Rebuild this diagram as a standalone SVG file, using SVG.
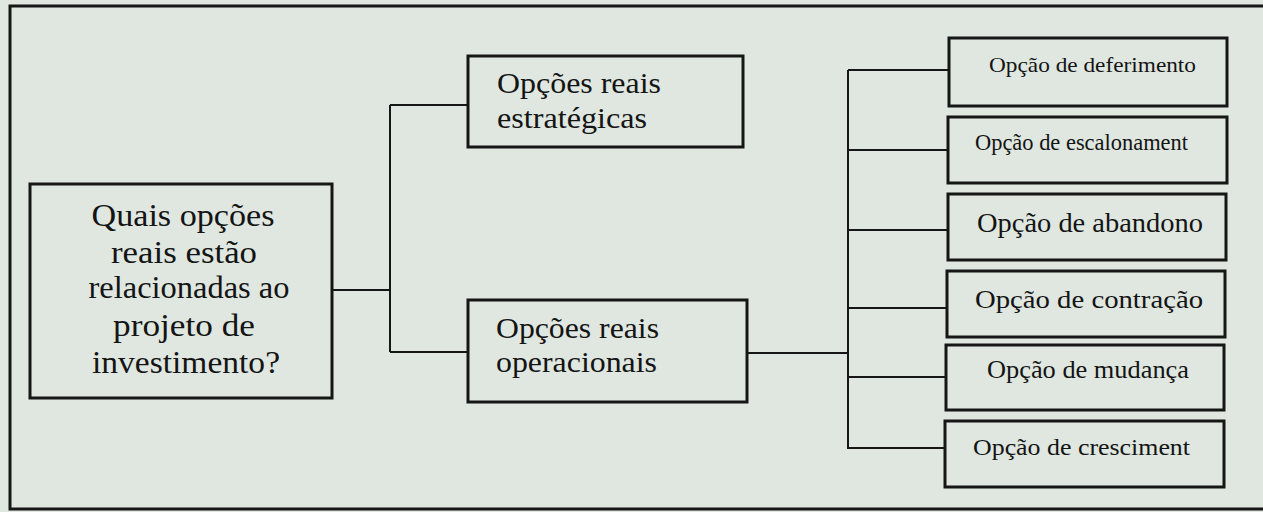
<svg xmlns="http://www.w3.org/2000/svg" width="1263" height="512" viewBox="0 0 1263 512">
  <style>
    .box { fill: none; stroke: #161616; stroke-width: 3; }
    .wire { fill: none; stroke: #161616; stroke-width: 2; }
    text { font-family: "Liberation Serif", "Times New Roman", serif; fill: #141414; }
    .big { font-size: 32px; }
    .mid { font-size: 29px; }
    .c { text-anchor: middle; }
  </style>

  <!-- page background and outer frame -->
  <rect x="0" y="0" width="1263" height="512" fill="#dfe7e0"/>
  <rect x="10" y="6" width="1270" height="503" class="box"/>

  <!-- connectors -->
  <g id="connectors">
    <path class="wire" d="M332 290 H390 M390 105 V352 M390 105 H468 M390 352 H468"/>
    <path class="wire" d="M747 353 H848 M848 70 V449"/>
    <path class="wire" d="M848 70 H949 M848 150 H948 M848 230 H948 M848 308 H947 M848 377 H946 M848 448 H945"/>
  </g>

  <g id="question">
    <rect class="box" x="30" y="184" width="302" height="214"/>
    <text class="big c" x="183" y="226" textLength="183" lengthAdjust="spacingAndGlyphs">Quais opções</text>
    <text class="big c" x="184" y="263" textLength="146" lengthAdjust="spacingAndGlyphs">reais estão</text>
    <text class="big c" x="189" y="298" textLength="201" lengthAdjust="spacingAndGlyphs">relacionadas ao</text>
    <text class="big c" x="184" y="336" textLength="142" lengthAdjust="spacingAndGlyphs">projeto de</text>
    <text class="big c" x="186" y="373" textLength="188" lengthAdjust="spacingAndGlyphs">investimento?</text>
  </g>

  <g id="estrategicas">
    <rect class="box" x="468" y="56" width="275" height="91"/>
    <text class="mid" x="497" y="93" textLength="164" lengthAdjust="spacingAndGlyphs">Opções reais</text>
    <text class="mid" x="497" y="128" textLength="150" lengthAdjust="spacingAndGlyphs">estratégicas</text>
  </g>

  <g id="operacionais">
    <rect class="box" x="468" y="300" width="279" height="102"/>
    <text class="mid" x="496" y="338" textLength="163" lengthAdjust="spacingAndGlyphs">Opções reais</text>
    <text class="mid" x="496" y="372" textLength="161" lengthAdjust="spacingAndGlyphs">operacionais</text>
  </g>

  <g id="deferimento">
    <rect class="box" x="949" y="38" width="278" height="68"/>
    <text x="989" y="72" font-size="22" textLength="207" lengthAdjust="spacingAndGlyphs">Opção de deferimento</text>
  </g>
  <g id="escalonamento">
    <rect class="box" x="948" y="117" width="279" height="66"/>
    <text x="975" y="150" font-size="23" textLength="213" lengthAdjust="spacingAndGlyphs">Opção de escalonament</text>
  </g>
  <g id="abandono">
    <rect class="box" x="948" y="194" width="278" height="66"/>
    <text x="977" y="232" font-size="28" textLength="226" lengthAdjust="spacingAndGlyphs">Opção de abandono</text>
  </g>
  <g id="contracao">
    <rect class="box" x="947" y="271" width="278" height="66"/>
    <text x="975" y="308" font-size="26" textLength="228" lengthAdjust="spacingAndGlyphs">Opção de contração</text>
  </g>
  <g id="mudanca">
    <rect class="box" x="946" y="345" width="278" height="65"/>
    <text x="987" y="378" font-size="25" textLength="202" lengthAdjust="spacingAndGlyphs">Opção de mudança</text>
  </g>
  <g id="crescimento">
    <rect class="box" x="945" y="421" width="279" height="66"/>
    <text x="973" y="455" font-size="24" textLength="217" lengthAdjust="spacingAndGlyphs">Opção de cresciment</text>
  </g>
</svg>
